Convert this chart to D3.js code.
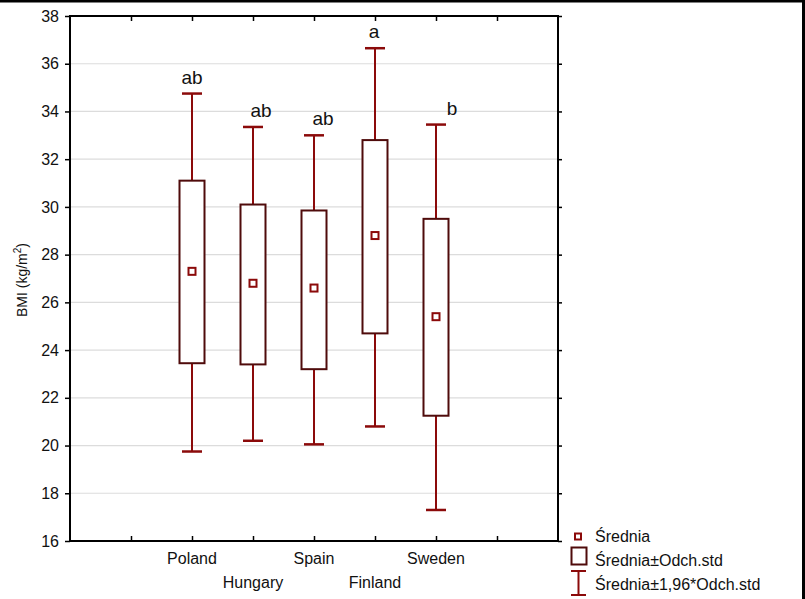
<!DOCTYPE html>
<html>
<head>
<meta charset="utf-8">
<script src="https://cdn.jsdelivr.net/npm/d3@7"></script>
<style>
  html, body { margin: 0; padding: 0; background: #fff; }
  svg { display: block; font-family: "Liberation Sans", Arial, sans-serif; }
</style>
</head>
<body>
<svg id="chart" width="805" height="599"></svg>
<script>
// data
var countries = ["Poland", "Hungary", "Spain", "Finland", "Sweden"];
var means     = [27.3, 26.8, 26.6, 28.8, 25.4];
var boxHigh   = [31.1, 30.1, 29.85, 32.8, 29.5];
var boxLow    = [23.45, 23.4, 23.2, 24.7, 21.25];
var whiskHigh = [34.75, 33.35, 33.0, 36.65, 33.45];
var whiskLow  = [19.75, 20.2, 20.05, 20.8, 17.3];
var letters   = ["ab", "ab", "ab", "a", "b"];
var letterShift = [0, 8, 9, -1, 16];
var yTicks = d3.range(16, 39, 2);
var legendItems = ["Średnia", "Średnia±Odch.std", "Średnia±1,96*Odch.std"];

(function() {
var svg = d3.select("#chart");
var pLeft = 70, pRight = 558, pTop = 16, pBottom = 541;
var boxColor = "#4f0b0b", whiskColor = "#8b0a0a";

var x = d3.scaleLinear().domain([0, 8]).range([pLeft, pRight]);
var y = d3.scaleLinear().domain([16, 38]).range([pBottom, pTop]);

// outer border (top and right edge of the picture)
svg.append("line").attr("x1", 0).attr("x2", 805).attr("y1", 1).attr("y2", 1)
    .attr("stroke", "#000").attr("stroke-width", 3);
svg.append("line").attr("x1", 803.5).attr("x2", 803.5).attr("y1", 0).attr("y2", 599)
    .attr("stroke", "#000").attr("stroke-width", 3);

//grid
svg.append("g").selectAll("line")
    .data(yTicks.filter(function(d) { return d > 16 && d < 38; }))
    .enter().append("line")
    .attr("x1", pLeft).attr("x2", pRight)
    .attr("y1", function(d) { return y(d); }).attr("y2", function(d) { return y(d); })
    .attr("stroke", "#dcdcdc").attr("stroke-width", 1.2);

//axes
var yAxis = svg.append("g").attr("transform", "translate(" + pLeft + ",0)")
    .call(d3.axisLeft(y).tickValues(yTicks).tickSize(5).tickPadding(6));
yAxis.select(".domain").remove();
yAxis.selectAll("text").attr("font-size", 16).attr("fill", "#111").style("font-family", "Liberation Sans, Arial, sans-serif");
yAxis.selectAll("line").attr("stroke-width", 1.5);

var yRight = svg.append("g").attr("transform", "translate(" + pRight + ",0)")
    .call(d3.axisLeft(y).tickValues(yTicks).tickSize(-4).tickFormat(""));
yRight.select(".domain").remove();
yRight.selectAll("line").attr("stroke-width", 1.5);

var xt = d3.range(1, 8);
var xBottom = svg.append("g").attr("transform", "translate(0," + pBottom + ")")
    .call(d3.axisTop(x).tickValues(xt).tickSize(5).tickFormat(""));
xBottom.select(".domain").remove();
xBottom.selectAll("line").attr("stroke-width", 1.5);
var xTop = svg.append("g").attr("transform", "translate(0," + pTop + ")")
    .call(d3.axisBottom(x).tickValues(xt).tickSize(5).tickFormat(""));
xTop.select(".domain").remove();
xTop.selectAll("line").attr("stroke-width", 1.5);

svg.append("rect")
    .attr("x", pLeft).attr("y", pTop)
    .attr("width", pRight - pLeft).attr("height", pBottom - pTop)
    .attr("fill", "none").attr("stroke", "#000").attr("stroke-width", 2);

// category labels, staggered
svg.append("g").selectAll("text")
    .data(countries).enter().append("text")
    .attr("x", function(d, i) { return x(i + 2); })
    .attr("y", function(d, i) { return i % 2 === 0 ? 564 : 588; })
    .attr("text-anchor", "middle").attr("font-size", 16).attr("fill", "#111")
    .text(function(d) { return d; });

// y label
svg.append("text")
    .attr("transform", "translate(27,280) rotate(-90)")
    .attr("text-anchor", "middle").attr("font-size", 14).attr("fill", "#111")
    .html('BMI (kg/m<tspan dy="-6" font-size="10">2</tspan><tspan dy="6">)</tspan>');

// whiskers, boxes, means
var g = svg.append("g");
countries.forEach(function(c, i) {
    var cx = x(i + 2);
    g.append("line").attr("x1", cx).attr("x2", cx)
        .attr("y1", y(whiskHigh[i])).attr("y2", y(whiskLow[i]))
        .attr("stroke", whiskColor).attr("stroke-width", 2);
    [whiskHigh[i], whiskLow[i]].forEach(function(v) {
        g.append("line").attr("x1", cx - 10).attr("x2", cx + 10)
            .attr("y1", y(v)).attr("y2", y(v))
            .attr("stroke", whiskColor).attr("stroke-width", 2.5);
    });
    g.append("rect")
        .attr("x", cx - 12.5).attr("width", 25)
        .attr("y", y(boxHigh[i])).attr("height", y(boxLow[i]) - y(boxHigh[i]))
        .attr("fill", "#fff").attr("stroke", boxColor).attr("stroke-width", 2);
    g.append("rect")
        .attr("x", cx - 3.5).attr("y", y(means[i]) - 3.5)
        .attr("width", 7).attr("height", 7)
        .attr("fill", "#fff").attr("stroke", whiskColor).attr("stroke-width", 2);
    g.append("text")
        .attr("x", cx + letterShift[i])
        .attr("y", y(whiskHigh[i]) - 10)
        .attr("text-anchor", "middle").attr("font-size", 19).attr("fill", "#111")
        .text(letters[i]);
});

// legend
var lg = svg.append("g");
lg.append("rect").attr("x", 575).attr("y", 533.5).attr("width", 6).attr("height", 6)
    .attr("fill", "#fff").attr("stroke", whiskColor).attr("stroke-width", 2);
lg.append("rect").attr("x", 571.5).attr("y", 547.5).attr("width", 15).attr("height", 17)
    .attr("fill", "#fff").attr("stroke", boxColor).attr("stroke-width", 2);
lg.append("line").attr("x1", 578.5).attr("x2", 578.5).attr("y1", 571).attr("y2", 595)
    .attr("stroke", whiskColor).attr("stroke-width", 2);
lg.append("line").attr("x1", 571).attr("x2", 586).attr("y1", 571).attr("y2", 571)
    .attr("stroke", whiskColor).attr("stroke-width", 2);
lg.append("line").attr("x1", 571).attr("x2", 586).attr("y1", 595).attr("y2", 595)
    .attr("stroke", whiskColor).attr("stroke-width", 2);
lg.selectAll("text").data(legendItems).enter().append("text")
    .attr("x", 595).attr("y", function(d, i) { return 542 + i * 24; })
    .attr("font-size", 16).attr("fill", "#111")
    .text(function(d) { return d; });
})();
</script>
</body>
</html>
